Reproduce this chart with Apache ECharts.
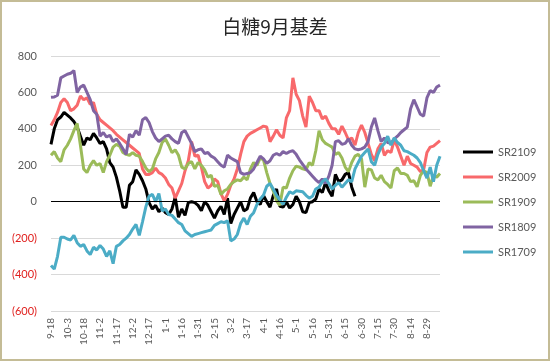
<!DOCTYPE html>
<html><head><meta charset="utf-8">
<script src="https://cdn.jsdelivr.net/npm/echarts@6/dist/echarts.min.js"></script>
<style>
html,body{margin:0;padding:0;background:#fff;}
#chart{position:absolute;left:0;top:0;width:550px;height:361px;}
#frame{position:absolute;left:0;top:0;width:550px;height:361px;box-sizing:border-box;border:2px solid #C4BC96;pointer-events:none;z-index:10;}
</style></head>
<body><div id="chart"></div><div id="frame"></div>
<script>
const categories = ["9-18","9-21","9-24","9-27","9-30","10-3","10-6","10-9","10-12","10-15","10-18","10-21","10-24","10-27","10-30","11-2","11-5","11-8","11-11","11-14","11-17","11-20","11-23","11-26","11-29","12-2","12-5","12-8","12-11","12-14","12-17","12-20","12-23","12-26","12-29","1-1","1-4","1-7","1-10","1-13","1-16","1-19","1-22","1-25","1-28","1-31","2-3","2-6","2-9","2-12","2-15","2-18","2-21","2-24","2-27","3-2","3-5","3-8","3-11","3-14","3-17","3-20","3-23","3-26","3-29","4-1","4-4","4-7","4-10","4-13","4-16","4-19","4-22","4-25","4-28","5-1","5-4","5-7","5-10","5-13","5-16","5-19","5-22","5-25","5-28","5-31","6-3","6-6","6-9","6-12","6-15","6-18","6-21","6-24","6-27","6-30","7-3","7-6","7-9","7-12","7-15","7-18","7-21","7-24","7-27","7-30","8-2","8-5","8-8","8-11","8-14","8-17","8-20","8-23","8-26","8-29","9-1","9-4","9-7","9-10"];

const seriesNames = ["SR2109","SR2009","SR1909","SR1809","SR1709"];
const seriesColors = ["#000000","#F8696B","#9BBB59","#8064A2","#4BACC6"];

const sr2109 = [315,400,450,465,490,475,460,440,410,360,
310,350,340,375,350,320,330,290,215,190,
135,60,-30,-30,90,110,175,150,115,70,
-5,-40,-20,-55,-35,-60,-70,-40,25,-85,
-40,-75,-5,0,-5,-20,-50,0,-20,-55,
-90,-50,-25,-70,20,-120,-70,-35,0,-50,
-40,20,50,0,-15,35,0,-30,35,70,
-25,-30,0,-35,-15,30,0,-55,-60,-5,
0,15,70,50,105,60,30,150,110,120,
150,160,80,30];

const sr2009 = [418,450,490,545,565,545,500,510,530,580,
560,570,535,545,480,450,435,420,405,390,
370,355,340,325,310,295,280,265,180,150,
150,160,185,160,150,130,95,75,20,60,
100,170,225,330,250,255,190,110,75,90,
125,110,45,5,40,90,125,180,260,330,
360,375,385,395,405,415,410,330,360,395,
365,350,460,500,680,590,555,470,410,580,
545,500,500,455,470,430,400,400,370,415,
380,340,350,310,380,420,380,320,260,225,
290,320,255,280,270,340,300,250,200,250,
210,200,190,165,175,270,300,305,320,335];

const sr1909 = [255,275,240,220,285,310,345,390,430,310,
180,160,200,225,200,210,160,220,255,300,
315,305,270,260,255,270,255,250,220,185,
165,180,235,270,325,345,310,270,285,255,
190,180,210,220,180,215,200,175,135,145,
85,90,40,60,70,95,110,120,115,135,
120,180,215,200,240,230,160,100,60,5,
-20,80,75,130,170,195,190,180,175,215,
200,280,390,340,320,310,300,260,270,240,
190,165,215,250,260,235,80,180,175,130,
120,145,110,95,75,170,185,155,155,145,
110,115,82,145,170,160,85,145,135,155];

const sr1809 = [573,575,585,680,690,700,705,720,600,630,
640,600,560,500,480,360,380,355,365,330,
345,320,290,260,370,355,390,365,450,462,
435,385,350,330,345,360,365,345,330,320,
380,390,355,320,275,285,290,265,270,250,
240,220,200,190,255,240,230,220,160,150,
155,160,180,215,250,235,210,225,255,265,
255,275,265,275,280,260,230,205,180,160,
140,120,105,125,100,140,200,330,335,315,
320,345,310,290,285,290,300,330,410,460,
390,330,350,325,320,345,360,380,395,410,
510,560,520,480,470,570,610,600,630,640];

const sr1709 = [-350,-370,-300,-195,-195,-205,-210,-185,-225,-245,
-235,-270,-290,-250,-265,-240,-260,-300,-270,-340,
-245,-235,-215,-200,-180,-150,-125,-185,-110,-30,
30,40,0,45,-50,-40,-70,-75,-95,-115,
-125,-160,-175,-190,-180,-175,-170,-165,-160,-155,
-130,-120,-110,-115,-105,-215,-205,-180,-120,-90,
-125,-80,-60,-15,15,35,85,100,70,35,
10,-15,25,55,45,60,58,55,35,20,
30,70,80,110,125,100,70,90,105,80,
100,120,110,180,215,250,270,290,220,200,
260,300,320,360,310,350,325,310,280,275,
265,255,240,215,170,130,190,110,200,250];

const seriesData = [sr2109, sr2009, sr1909, sr1809, sr1709];

const yMin = -600, yMax = 800, yStep = 200;

const chart = echarts.init(document.getElementById('chart'), null, {renderer: 'canvas'});
const series = seriesNames.map((name, k) => {
  const s = {
    name: name,
    type: 'line',
    data: seriesData[k],
    symbol: 'none',
    showSymbol: false,
    smooth: false,
    connectNulls: true,
    lineStyle: {color: seriesColors[k], width: 3},
    itemStyle: {color: seriesColors[k]},
    emphasis: {disabled: true}
  };
  if (k === 0) {
    s.markLine = {
      silent: true,
      symbol: ['none', 'none'],
      label: {show: false},
      lineStyle: {color: '#000000', width: 1, type: 'solid'},
      emphasis: {disabled: true},
      data: [{yAxis: 0}]
    };
  }
  return s;
});

chart.setOption({
  animation: false,
  backgroundColor: '#ffffff',
  title: {
    text: '白糖9月基差',
    left: 'center',
    top: 12,
    textStyle: {fontFamily: '"Noto Sans CJK SC", sans-serif', fontSize: 19, fontWeight: 'normal', color: '#262626'}
  },
  legend: {
    orient: 'vertical',
    left: 458,
    top: 140,
    icon: 'rect',
    itemWidth: 30,
    itemHeight: 3,
    itemGap: 11,
    data: seriesNames,
    textStyle: {fontFamily: 'Lato, sans-serif', fontSize: 11, color: '#595959', lineHeight: 14}
  },
  grid: {left: 51, right: 110, top: 56, bottom: 50, containLabel: false},
  xAxis: {
    type: 'category',
    data: categories,
    boundaryGap: false,
    axisLine: {show: false, onZero: false},
    axisTick: {show: false},
    splitLine: {show: false},
    axisLabel: {
      interval: 4,
      rotate: 90,
      margin: 7,
      fontFamily: 'Lato, sans-serif',
      fontSize: 10,
      color: '#595959'
    }
  },
  yAxis: {
    type: 'value',
    min: yMin,
    max: yMax,
    interval: yStep,
    axisLine: {show: false},
    axisTick: {show: false},
    splitLine: {lineStyle: {color: '#D9D9D9', width: 1}},
    axisLabel: {
      margin: 14,
      fontFamily: 'Lato, sans-serif',
      fontSize: 11,
      formatter: v => (v < 0 ? '(' + (-v) + ')' : String(v)),
      color: v => (Number(v) < 0 ? '#E0201E' : '#595959')
    }
  },
  series: series
});
</script>
</body></html>
